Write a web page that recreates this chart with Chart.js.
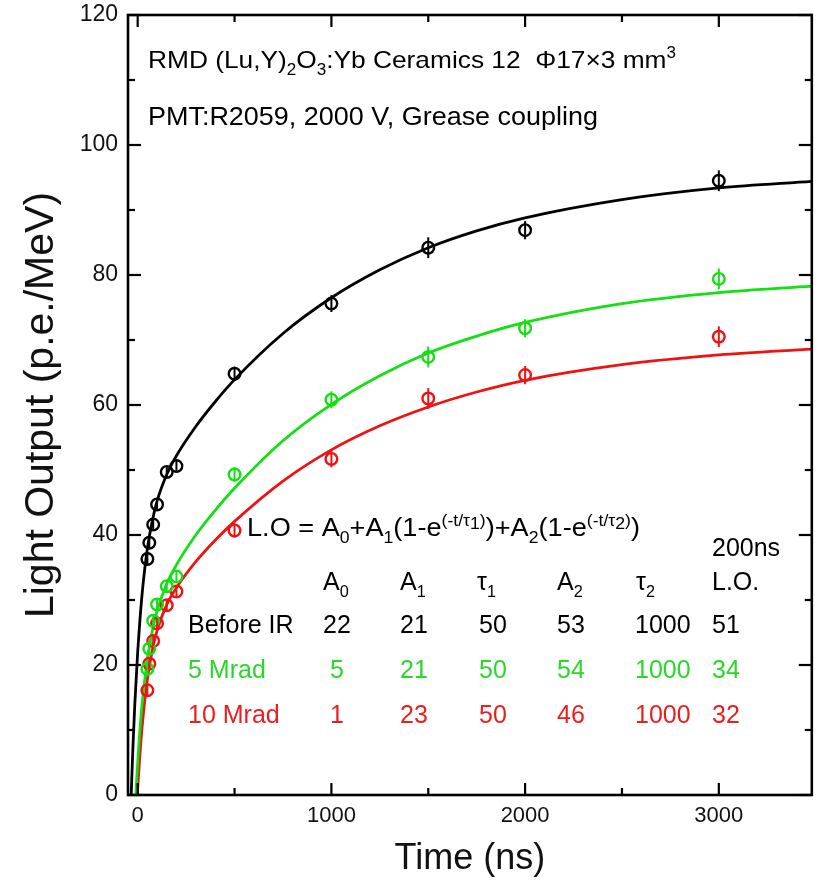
<!DOCTYPE html>
<html>
<head>
<meta charset="utf-8">
<script src="https://cdn.jsdelivr.net/npm/chart.js@4/dist/chart.umd.min.js"></script>
<style>
html,body{margin:0;padding:0;background:#fff}
#wrap{width:820px;height:881px}
</style>
</head>
<body>
<div id="wrap"><canvas id="lo"></canvas></div>
<script>
// measured points
const pointTimes = [50, 60, 80, 100, 150, 200, 500, 1000, 1500, 2000, 3000]
const beforeIR = [36.3, 38.8, 41.6, 44.7, 49.7, 50.6, 64.8, 75.6, 84.2, 86.9, 94.5]
const mrad5 = [19.4, 22.5, 26.8, 29.3, 32.1, 33.6, 49.3, 60.8, 67.4, 71.8, 79.4]
const mrad10 = [16.1, 20.2, 23.7, 26.4, 29.2, 31.3, 40.7, 51.7, 61.0, 64.6, 70.5]
const pointErr = [0.8, 0.8, 0.8, 0.8, 0.8, 0.8, 1.1, 1.3, 1.6, 1.4, 1.6]

// fitted curves
const fitBlackT = [-33.5, -25, -15, 0, 10, 25, 50, 75, 100, 150, 200, 300, 400, 500, 750, 1000, 1250, 1500, 1750, 2000, 2500, 3000, 3480]
const fitBlack = [0, 7.0, 13.9, 22, 26.3, 31.6, 37.9, 42.1, 45.2, 49.3, 52.2, 56.7, 60.5, 63.9, 71.0, 76.5, 80.8, 84.2, 86.8, 88.8, 91.6, 93.4, 94.4]
const fitGreenT = [-9.7, -5, 0, 10, 25, 50, 75, 100, 150, 200, 300, 400, 500, 750, 1000, 1250, 1500, 1750, 2000, 2500, 3000, 3480]
const fitGreen = [0, 2.5, 5, 9.4, 14.6, 20.9, 25.2, 28.3, 32.5, 35.4, 40.0, 43.8, 47.2, 54.5, 60.1, 64.5, 68.0, 70.6, 72.7, 75.6, 77.3, 78.3]
const fitRedT = [-2, 0, 10, 25, 50, 75, 100, 150, 200, 300, 400, 500, 750, 1000, 1250, 1500, 1750, 2000, 2500, 3000, 3480]
const fitRed = [0, 1, 5.6, 11.2, 17.8, 22.2, 25.3, 29.3, 31.9, 35.9, 39.2, 42.1, 48.3, 53.1, 56.8, 59.7, 62.0, 63.8, 66.2, 67.7, 68.6]

// ticks
const xTicks = [0, 1000, 2000, 3000]
const xMinor = [500, 1500, 2500]
const yTicks = [0, 20, 40, 60, 80, 100, 120]
const yMinor = [10, 30, 50, 70, 90, 110]

// fit table
const rowNames = ["Before IR", "5 Mrad", "10 Mrad"]
const a0Vals = ["22", "5", "1"]
const a1Vals = ["21", "21", "23"]
const tau1Vals = ["50", "50", "50"]
const a2Vals = ["53", "54", "46"]
const tau2Vals = ["1000", "1000", "1000"]
const lo200Vals = ["51", "34", "32"]

const BLACK = "#000000"
const GREEN = "#12e012"
const RED = "#f01212"
const rowColors = [BLACK, "#2ad82a", "#ee1c1c"]
const FONT = "'Liberation Sans', Arial, sans-serif"

Chart.defaults.font.family = FONT

function pts(t, v){
return t.map((tt,i)=>({x:tt, y:v[i]}))
}

// parts: [text, mode] mode 0 normal, 1 sub, 2 sup, 3 sub inside sup
function drawRich(ctx, parts, x, y, size, color, fitW){
ctx.save()
ctx.fillStyle = color
ctx.textBaseline = "alphabetic"
ctx.textAlign = "left"
let w = 0
parts.forEach(p=>{
let s = p[1] ? size*0.65 : size
ctx.font = s+"px "+FONT
w += ctx.measureText(p[0]).width
})
let sx = fitW ? fitW/w : 1
ctx.translate(x,y)
ctx.scale(sx,1)
let cx = 0
parts.forEach(p=>{
let mode = p[1] || 0
let s = mode ? size*0.65 : size
let dy = 0
if(mode==1) dy = size*0.28
if(mode==2) dy = -size*0.42
if(mode==3) dy = -size*0.28
ctx.font = s+"px "+FONT
ctx.fillText(p[0], cx, dy)
cx += ctx.measureText(p[0]).width
})
ctx.restore()
}

const frameTicks = {
id:"frameTicks",
afterDraw(chart){
const {ctx, chartArea:a, scales:{x, y}} = chart
ctx.save()
ctx.strokeStyle = "#000"
ctx.lineWidth = 2.2
function seg(x1,y1,x2,y2){ ctx.beginPath(); ctx.moveTo(x1,y1); ctx.lineTo(x2,y2); ctx.stroke() }
xTicks.forEach(v=>{ let p = x.getPixelForValue(v); seg(p,a.bottom,p,a.bottom-12); seg(p,a.top,p,a.top+12) })
xMinor.forEach(v=>{ let p = x.getPixelForValue(v); seg(p,a.bottom,p,a.bottom-7); seg(p,a.top,p,a.top+7) })
yTicks.forEach(v=>{ let p = y.getPixelForValue(v); seg(a.left,p,a.left+13,p); seg(a.right,p,a.right-13,p) })
yMinor.forEach(v=>{ let p = y.getPixelForValue(v); seg(a.left,p,a.left+7,p); seg(a.right,p,a.right-7,p) })
ctx.lineWidth = 2.6
ctx.strokeRect(a.left, a.top, a.right-a.left, a.bottom-a.top)
ctx.restore()
}
}

const errorBars = {
id:"errorBars",
afterDatasetsDraw(chart){
const {ctx, scales:{x, y}} = chart
const sets = [[beforeIR, BLACK], [mrad5, GREEN], [mrad10, RED]]
ctx.save()
ctx.lineWidth = 2
sets.forEach(s=>{
ctx.strokeStyle = s[1]
pointTimes.forEach((t,i)=>{
let px = x.getPixelForValue(t)
ctx.beginPath()
ctx.moveTo(px, y.getPixelForValue(s[0][i]-pointErr[i]))
ctx.lineTo(px, y.getPixelForValue(s[0][i]+pointErr[i]))
ctx.stroke()
})
})
ctx.restore()
}
}

const labels = {
id:"labels",
afterDraw(chart){
const ctx = chart.ctx
drawRich(ctx, [["RMD (Lu,Y)"],["2",1],["O"],["3",1],[":Yb Ceramics 12  \u03A617\u00D73 mm"],["3",2]], 148, 68, 24, BLACK, 528)
drawRich(ctx, [["PMT:R2059, 2000 V, Grease coupling"]], 148, 125, 25, BLACK, 450)
drawRich(ctx, [["L.O = A"],["0",1],["+A"],["1",1],["(1-e"],["(-t/\u03C4",2],["1",3],[")",2],[")+A"],["2",1],["(1-e"],["(-t/\u03C4",2],["2",3],[")",2],[")"]], 247, 536, 25, BLACK, 393)
drawRich(ctx, [["200ns"]], 712, 556, 25, BLACK)
drawRich(ctx, [["A"],["0",1]], 323, 590, 25, BLACK)
drawRich(ctx, [["A"],["1",1]], 400, 590, 25, BLACK)
drawRich(ctx, [["\u03C4"],["1",1]], 477, 590, 25, BLACK)
drawRich(ctx, [["A"],["2",1]], 557, 590, 25, BLACK)
drawRich(ctx, [["\u03C4"],["2",1]], 636, 590, 25, BLACK)
drawRich(ctx, [["L.O."]], 712, 590, 25, BLACK)
const rowY = [633, 678, 723]
rowNames.forEach((n,i)=>{
let c = rowColors[i]
drawRich(ctx, [[n]], 188, rowY[i], 25, c)
ctx.save()
ctx.font = "25px "+FONT
let w = ctx.measureText(a0Vals[i]).width
ctx.restore()
drawRich(ctx, [[a0Vals[i]]], 337-w/2, rowY[i], 25, c)
drawRich(ctx, [[a1Vals[i]]], 400, rowY[i], 25, c)
drawRich(ctx, [[tau1Vals[i]]], 479, rowY[i], 25, c)
drawRich(ctx, [[a2Vals[i]]], 557, rowY[i], 25, c)
drawRich(ctx, [[tau2Vals[i]]], 635, rowY[i], 25, c)
drawRich(ctx, [[lo200Vals[i]]], 712, rowY[i], 25, c)
})
}
}

function pointSet(label, vals, color){
return {label:label, data:pts(pointTimes, vals), showLine:false, borderColor:color, backgroundColor:"rgba(0,0,0,0)", pointRadius:5.8, pointBorderWidth:2.4, pointStyle:"circle"}
}
function fitSet(t, vals, color){
return {label:"fit", data:pts(t, vals), showLine:true, borderColor:color, borderWidth:2.8, pointRadius:0, cubicInterpolationMode:"monotone", fill:false}
}

function noPad(s){
s.paddingTop = 0
s.paddingBottom = 0
s.paddingLeft = 0
s.paddingRight = 0
}

let ctx = document.getElementById("lo")

new Chart(ctx,{
type:"scatter",
data:{
datasets:[
pointSet("Before IR", beforeIR, BLACK),
pointSet("5 Mrad", mrad5, GREEN),
pointSet("10 Mrad", mrad10, RED),
fitSet(fitBlackT, fitBlack, BLACK),
fitSet(fitGreenT, fitGreen, GREEN),
fitSet(fitRedT, fitRed, RED)
]
},
options:{
responsive:true,
maintainAspectRatio:false,
devicePixelRatio:1,
animation:false,
layout:{padding:{top:15, right:4, left:0, bottom:0}},
plugins:{legend:{display:false}, tooltip:{enabled:false}},
scales:{
x:{
type:"linear", min:-50, max:3480,
grid:{display:false, drawTicks:false}, border:{display:false},
ticks:{font:{size:22}, color:"#111", padding:8, maxRotation:0, includeBounds:false, callback:v=>String(v)},
afterBuildTicks:s=>{ s.ticks = xTicks.map(v=>({value:v})) },
afterFit:s=>{ s.height = 86; noPad(s) },
title:{display:true, text:"Time (ns)", font:{size:36}, color:"#111", padding:{top:0, bottom:0}}
},
y:{
type:"linear", min:0, max:120,
grid:{display:false, drawTicks:false}, border:{display:false},
ticks:{font:{size:23}, color:"#111", padding:10, callback:v=>String(v)},
afterBuildTicks:s=>{ s.ticks = yTicks.map(v=>({value:v})) },
afterFit:s=>{ s.width = 128; noPad(s) },
title:{display:true, text:"Light Output (p.e./MeV)", font:{size:41}, color:"#111", padding:{top:17, bottom:0}}
}
}
},
plugins:[frameTicks, errorBars, labels]
})
</script>
</body>
</html>
